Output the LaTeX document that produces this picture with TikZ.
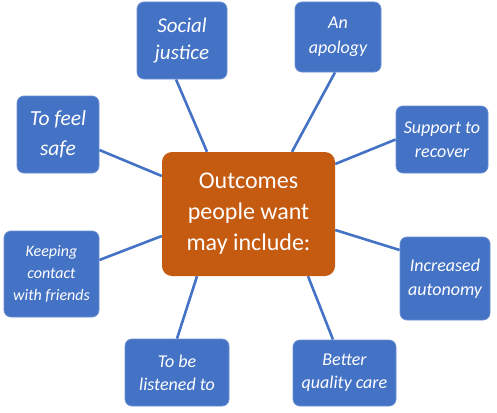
\documentclass[tikz,border=0pt]{standalone}
\usepackage{fontspec}
\setmainfont{Carlito}
\usetikzlibrary{backgrounds}
\definecolor{boxblue}{HTML}{4472C4}
\definecolor{boxedge}{HTML}{6A8FD3}
\definecolor{boxorange}{HTML}{C55A11}
\tikzset{
  leaf/.style={draw=boxedge, line width=0.8pt, fill=boxblue, rounded corners=7pt,
    text=white, align=center, inner sep=0pt, font=\itshape},
  hub/.style={fill=boxorange, rounded corners=10pt, text=white, align=center,
    inner sep=0pt, minimum width=173pt, minimum height=124pt,
    font=\fontsize{24}{31}\selectfont},
  link/.style={draw=boxblue, line width=2.6pt}
}
\begin{document}
\begin{tikzpicture}[x=1pt,y=-1pt]
\useasboundingbox (0,0) rectangle (497,412);
\node[hub] (c) at (248.5,214) {Outcomes\\people want\\may include:};
\node[leaf, minimum width=90pt, minimum height=77pt, font=\itshape\fontsize{21}{27}\selectfont] (sj) at (182,40.5) {Social\\justice};
\node[leaf, minimum width=82pt, minimum height=77pt, font=\itshape\fontsize{21.5}{30}\selectfont] (tfs) at (58,134.5) {To feel\\safe};
\node[leaf, minimum width=86pt, minimum height=70pt, font=\itshape\fontsize{18}{25}\selectfont] (aa) at (338,37) {An\\apology};
\node[leaf, minimum width=92pt, minimum height=67pt, font=\itshape\fontsize{18}{24}\selectfont] (sr) at (442,139.5) {Support to\\recover};
\node[leaf, minimum width=95pt, minimum height=86pt, font=\itshape\fontsize{16}{22}\selectfont] (kc) at (51.5,274) {Keeping\\contact\\with friends};
\node[leaf, minimum width=104pt, minimum height=67pt, font=\itshape\fontsize{18}{23}\selectfont] (tbl) at (177,372.5) {To be\\listened to};
\node[leaf, minimum width=90pt, minimum height=83pt, font=\itshape\fontsize{18}{24}\selectfont] (ia) at (445,278.5) {Increased\\autonomy};
\node[leaf, minimum width=103pt, minimum height=66pt, font=\itshape\fontsize{18}{23}\selectfont] (bqc) at (344.5,373) {Better\\quality care};
\begin{pgfonlayer}{background}
\draw[link] ([xshift=-6pt]sj.south) -- ([xshift=-41.5pt]c.north);
\draw[link] ([yshift=-15.5pt]tfs.east) -- ([yshift=38pt]c.west);
\draw[link] ([xshift=-3pt]aa.south) -- ([xshift=43.5pt]c.north);
\draw[link] (sr.west) -- ([yshift=50pt]c.east);
\draw[link] ([yshift=14pt]kc.east) -- ([yshift=-22pt]c.west);
\draw[link] (tbl.north) -- ([xshift=-51.5pt]c.south);
\draw[link] ([yshift=-16pt]c.east) -- ([yshift=28.5pt]ia.west);
\draw[link] ([xshift=59.5pt]c.south) -- ([xshift=-11.5pt]bqc.north);
\end{pgfonlayer}
\end{tikzpicture}
\end{document}
